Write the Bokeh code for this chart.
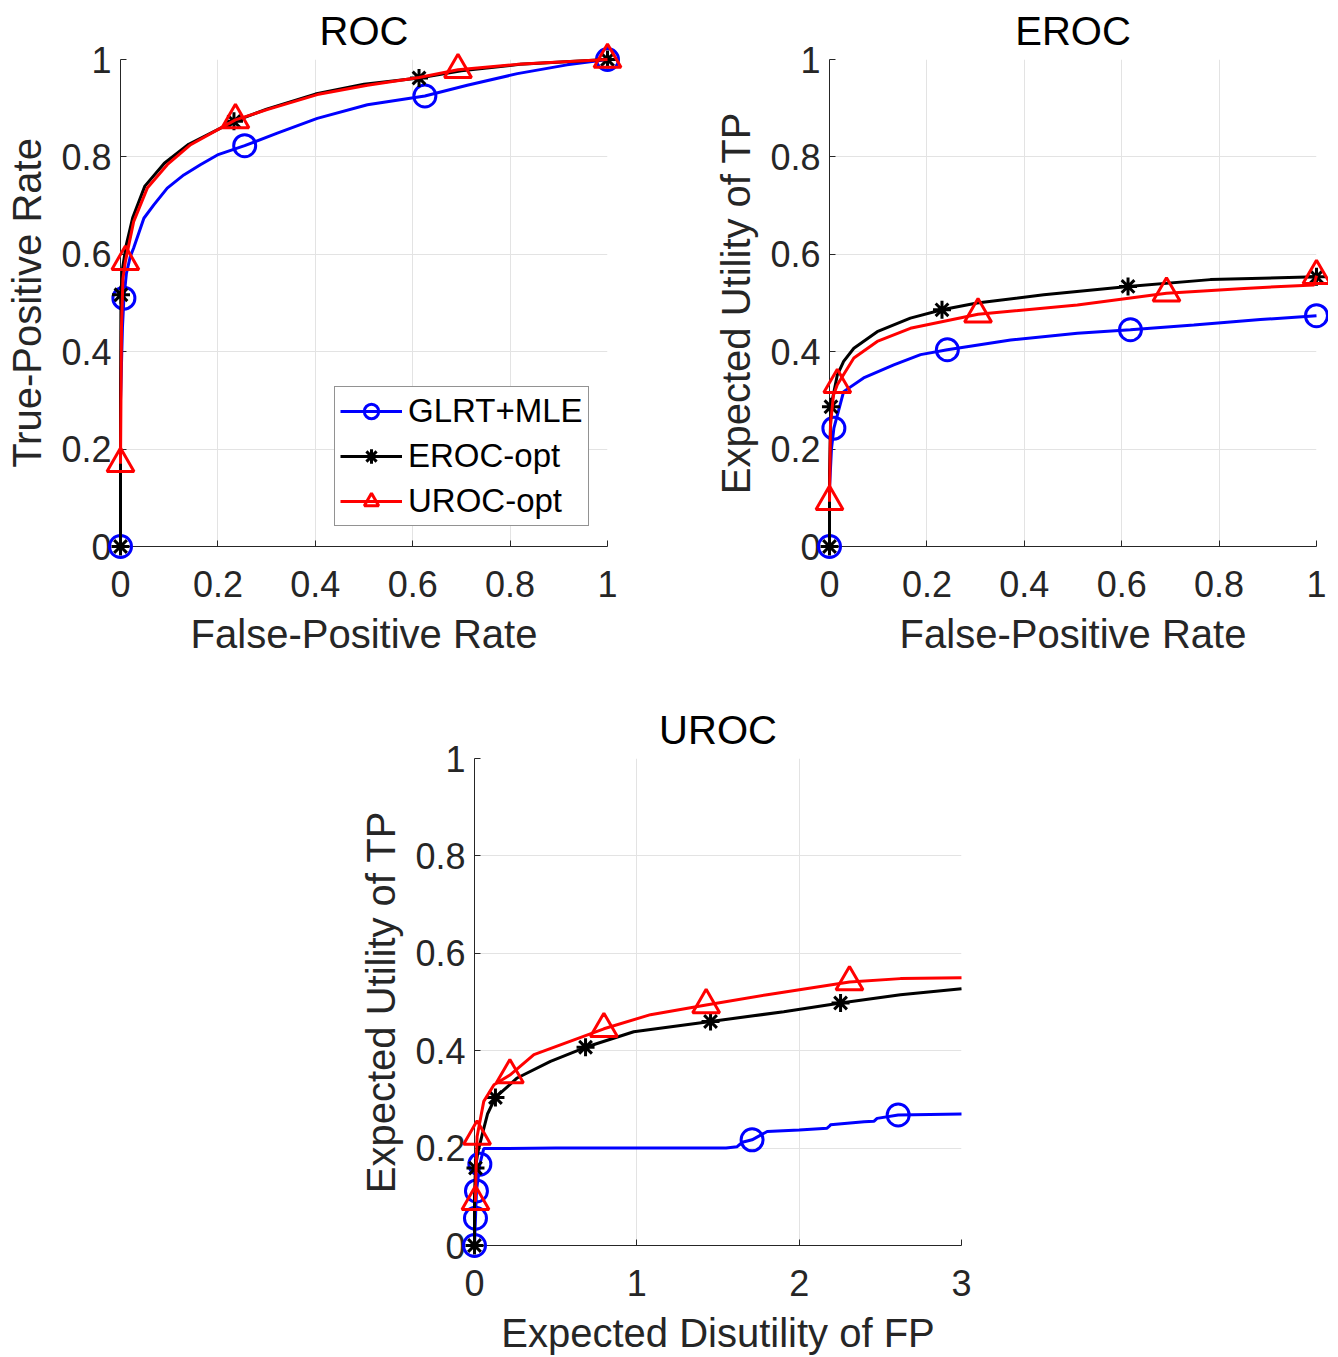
from bokeh.plotting import figure
from bokeh.layouts import column, row, Spacer
from bokeh.models import Range1d, FixedTicker, CustomJSTickFormatter, Legend, LegendItem
from bokeh.embed import file_html
from bokeh.resources import INLINE

FONT = "Liberation Sans"
AX = "#262626"

# ---------------- ROC ----------------
roc_glrt_x = [0, 0.0, 0.004, 0.007, 0.012, 0.02, 0.027, 0.048, 0.068, 0.096, 0.13, 0.164, 0.199, 0.255, 0.322, 0.404, 0.507, 0.625, 0.712, 0.815, 0.917, 1.0]
roc_glrt_y = [0, 0.3, 0.45, 0.51, 0.56, 0.595, 0.613, 0.674, 0.701, 0.736, 0.763, 0.784, 0.804, 0.823, 0.849, 0.879, 0.907, 0.925, 0.947, 0.971, 0.989, 1.0]
roc_glrt_mx = [0, 0.007, 0.255, 0.625, 1.0]
roc_glrt_my = [0, 0.51, 0.823, 0.925, 1.0]

roc_eroc_x = [0, 0.0, 0.001, 0.004, 0.012, 0.025, 0.05, 0.09, 0.14, 0.233, 0.3, 0.4, 0.5, 0.613, 0.7, 0.82, 1.0]
roc_eroc_y = [0, 0.3, 0.517, 0.57, 0.62, 0.675, 0.74, 0.787, 0.826, 0.873, 0.898, 0.929, 0.949, 0.962, 0.977, 0.99, 1.0]
roc_eroc_mx = [0, 0.001, 0.233, 0.613, 1.0]
roc_eroc_my = [0, 0.517, 0.873, 0.962, 1.0]

roc_uroc_x = [0, 0.002, 0.005, 0.01, 0.027, 0.055, 0.096, 0.144, 0.236, 0.301, 0.404, 0.507, 0.613, 0.693, 0.815, 1.0]
roc_uroc_y = [0.17, 0.45, 0.55, 0.585, 0.667, 0.736, 0.784, 0.825, 0.876, 0.897, 0.928, 0.947, 0.963, 0.979, 0.99, 1.0]
roc_uroc_mx = [0, 0.01, 0.236, 0.693, 1.0]
roc_uroc_my = [0.17, 0.585, 0.876, 0.979, 1.0]

# ---------------- EROC ----------------
eroc_glrt_x = [0, 0.0, 0.004, 0.009, 0.029, 0.07, 0.132, 0.187, 0.242, 0.372, 0.509, 0.618, 0.748, 0.885, 1.0]
eroc_glrt_y = [0, 0.12, 0.2, 0.243, 0.318, 0.346, 0.373, 0.394, 0.404, 0.424, 0.438, 0.445, 0.455, 0.466, 0.474]
eroc_glrt_mx = [0, 0.009, 0.242, 0.618, 1.0]
eroc_glrt_my = [0, 0.243, 0.404, 0.445, 0.474]

eroc_eroc_x = [0, 0.0, 0.003, 0.016, 0.029, 0.05, 0.098, 0.166, 0.231, 0.303, 0.44, 0.613, 0.782, 1.0]
eroc_eroc_y = [0, 0.15, 0.287, 0.352, 0.38, 0.407, 0.441, 0.469, 0.486, 0.5, 0.517, 0.534, 0.548, 0.554]
eroc_eroc_mx = [0, 0.003, 0.231, 0.613, 1.0]
eroc_eroc_my = [0, 0.287, 0.486, 0.534, 0.554]

eroc_uroc_x = [0, 0.002, 0.008, 0.016, 0.05, 0.098, 0.166, 0.305, 0.509, 0.692, 0.851, 0.995, 1.0]
eroc_uroc_y = [0.092, 0.25, 0.31, 0.332, 0.387, 0.421, 0.448, 0.477, 0.496, 0.52, 0.53, 0.537, 0.556]
eroc_uroc_mx = [0, 0.016, 0.305, 0.692, 1.0]
eroc_uroc_my = [0.092, 0.332, 0.477, 0.52, 0.556]

# ---------------- UROC ----------------
uroc_glrt_x = [0, 0.006, 0.012, 0.033, 0.057, 0.5, 1.0, 1.55, 1.618, 1.65, 1.71, 1.803, 2.0, 2.172, 2.19, 2.193, 2.4, 2.46, 2.48, 2.61, 3.0]
uroc_glrt_y = [0, 0.056, 0.112, 0.167, 0.199, 0.2, 0.2, 0.2, 0.203, 0.212, 0.217, 0.234, 0.237, 0.241, 0.246, 0.248, 0.254, 0.255, 0.261, 0.268, 0.27]
uroc_glrt_mx = [0, 0.006, 0.012, 0.033, 1.71, 2.61]
uroc_glrt_my = [0, 0.056, 0.112, 0.167, 0.217, 0.268]

uroc_eroc_x = [0, 0.0, 0.006, 0.02, 0.047, 0.08, 0.129, 0.263, 0.468, 0.684, 0.981, 1.454, 1.905, 2.255, 2.624, 3.0]
uroc_eroc_y = [0, 0.1, 0.159, 0.19, 0.227, 0.27, 0.304, 0.344, 0.378, 0.407, 0.439, 0.46, 0.48, 0.498, 0.515, 0.527]
uroc_eroc_mx = [0, 0.006, 0.129, 0.684, 1.454, 2.255]
uroc_eroc_my = [0, 0.159, 0.304, 0.407, 0.46, 0.498]

uroc_uroc_x = [0.006, 0.01, 0.016, 0.057, 0.12, 0.218, 0.366, 0.797, 1.084, 1.427, 1.803, 2.31, 2.624, 3.0]
uroc_uroc_y = [0.09, 0.16, 0.224, 0.296, 0.33, 0.35, 0.392, 0.445, 0.474, 0.494, 0.515, 0.541, 0.548, 0.55]
uroc_uroc_mx = [0.006, 0.016, 0.218, 0.797, 1.427, 2.31]
uroc_uroc_my = [0.09, 0.224, 0.35, 0.445, 0.494, 0.541]

y_ticks = [0, 0.2, 0.4, 0.6, 0.8, 1.0]
x_ticks_rate = [0, 0.2, 0.4, 0.6, 0.8, 1.0]
x_ticks_uroc = [0, 1, 2, 3]

series_labels = ["GLRT+MLE", "EROC-opt", "UROC-opt"]
series_colors = ["#0000ff", "#000000", "#ff0000"]
series_markers = ["circle", "asterisk", "triangle"]
series_msize = [22, 18, 27]
series_mwidth = [3, 3, 3]

fmt = CustomJSTickFormatter(code="return String(Math.round(tick*10)/10);")

FRAME = 487


def make_fig(title, xlabel, ylabel, xmax, xticks, border_left, border_right, border_top, border_bottom):
    p = figure(frame_width=FRAME, frame_height=FRAME,
               x_range=Range1d(0, xmax), y_range=Range1d(0, 1),
               output_backend="svg", toolbar_location=None,
               min_border_left=border_left, min_border_right=border_right,
               min_border_top=border_top, min_border_bottom=border_bottom,
               background_fill_color="white", border_fill_color="white")
    p.outline_line_color = None
    p.title.text = title
    p.title.text_font = FONT
    p.title.text_font_size = "40px"
    p.title.text_font_style = "normal"
    p.title.text_color = "#000000"
    p.title.align = "center"
    p.title.standoff = 13
    p.xaxis.ticker = FixedTicker(ticks=xticks)
    p.yaxis.ticker = FixedTicker(ticks=y_ticks)
    for ax in (p.xaxis[0], p.yaxis[0]):
        ax.formatter = fmt
        ax.axis_line_color = AX
        ax.axis_line_width = 1
        ax.major_tick_line_color = AX
        ax.major_tick_in = 6
        ax.major_tick_out = 0
        ax.minor_tick_line_color = None
        ax.major_label_text_font = FONT
        ax.major_label_text_font_size = "36px"
        ax.major_label_text_color = AX
        ax.axis_label_text_font = FONT
        ax.axis_label_text_font_size = "40px"
        ax.axis_label_text_font_style = "normal"
        ax.axis_label_text_color = AX
    p.xaxis.axis_label = xlabel
    p.yaxis.axis_label = ylabel
    p.xaxis.major_label_standoff = 24
    p.yaxis.major_label_standoff = 9
    p.xaxis.axis_label_standoff = 12
    p.yaxis.axis_label_standoff = 9
    p.grid.grid_line_color = "#e3e3e3"
    p.grid.grid_line_width = 1
    return p


def add_series(p, xs, ys, mx, my, i):
    c = series_colors[i]
    lr = p.line(xs, ys, line_color=c, line_width=3, level="overlay")
    mr = p.scatter(mx, my, marker=series_markers[i], size=series_msize[i],
                   line_color=c, line_width=series_mwidth[i], fill_color=None,
                   level="overlay")
    return [lr, mr]


p1 = make_fig("ROC", "False-Positive Rate", "True-Positive Rate", 1, x_ticks_rate, 120, 102, 58, 125)
r1 = [add_series(p1, roc_glrt_x, roc_glrt_y, roc_glrt_mx, roc_glrt_my, 0),
      add_series(p1, roc_eroc_x, roc_eroc_y, roc_eroc_mx, roc_eroc_my, 1),
      add_series(p1, roc_uroc_x, roc_uroc_y, roc_uroc_mx, roc_uroc_my, 2)]

legend = Legend(items=[LegendItem(label=series_labels[i], renderers=r1[i]) for i in range(3)],
                location=(214, 20), margin=0, padding=5, spacing=7,
                glyph_width=62, glyph_height=36, label_height=36, label_standoff=6,
                label_text_font=FONT, label_text_font_size="33px", label_text_color="#000000",
                border_line_color=AX, border_line_width=1, background_fill_color="white",
                background_fill_alpha=1.0)
p1.add_layout(legend)

p2 = make_fig("EROC", "False-Positive Rate", "Expected Utility of TP", 1, x_ticks_rate, 120, 12, 58, 125)
add_series(p2, eroc_glrt_x, eroc_glrt_y, eroc_glrt_mx, eroc_glrt_my, 0)
add_series(p2, eroc_eroc_x, eroc_eroc_y, eroc_eroc_mx, eroc_eroc_my, 1)
add_series(p2, eroc_uroc_x, eroc_uroc_y, eroc_uroc_mx, eroc_uroc_my, 2)

p3 = make_fig("UROC", "Expected Disutility of FP", "Expected Utility of TP", 3, x_ticks_uroc, 120, 12, 87, 110)
add_series(p3, uroc_glrt_x, uroc_glrt_y, uroc_glrt_mx, uroc_glrt_my, 0)
add_series(p3, uroc_eroc_x, uroc_eroc_y, uroc_eroc_mx, uroc_eroc_my, 1)
add_series(p3, uroc_uroc_x, uroc_uroc_y, uroc_uroc_mx, uroc_uroc_my, 2)

layout = column(row(p1, p2), row(Spacer(width=354, height=10), p3))

open("out.html", "w").write(file_html(layout, INLINE))
